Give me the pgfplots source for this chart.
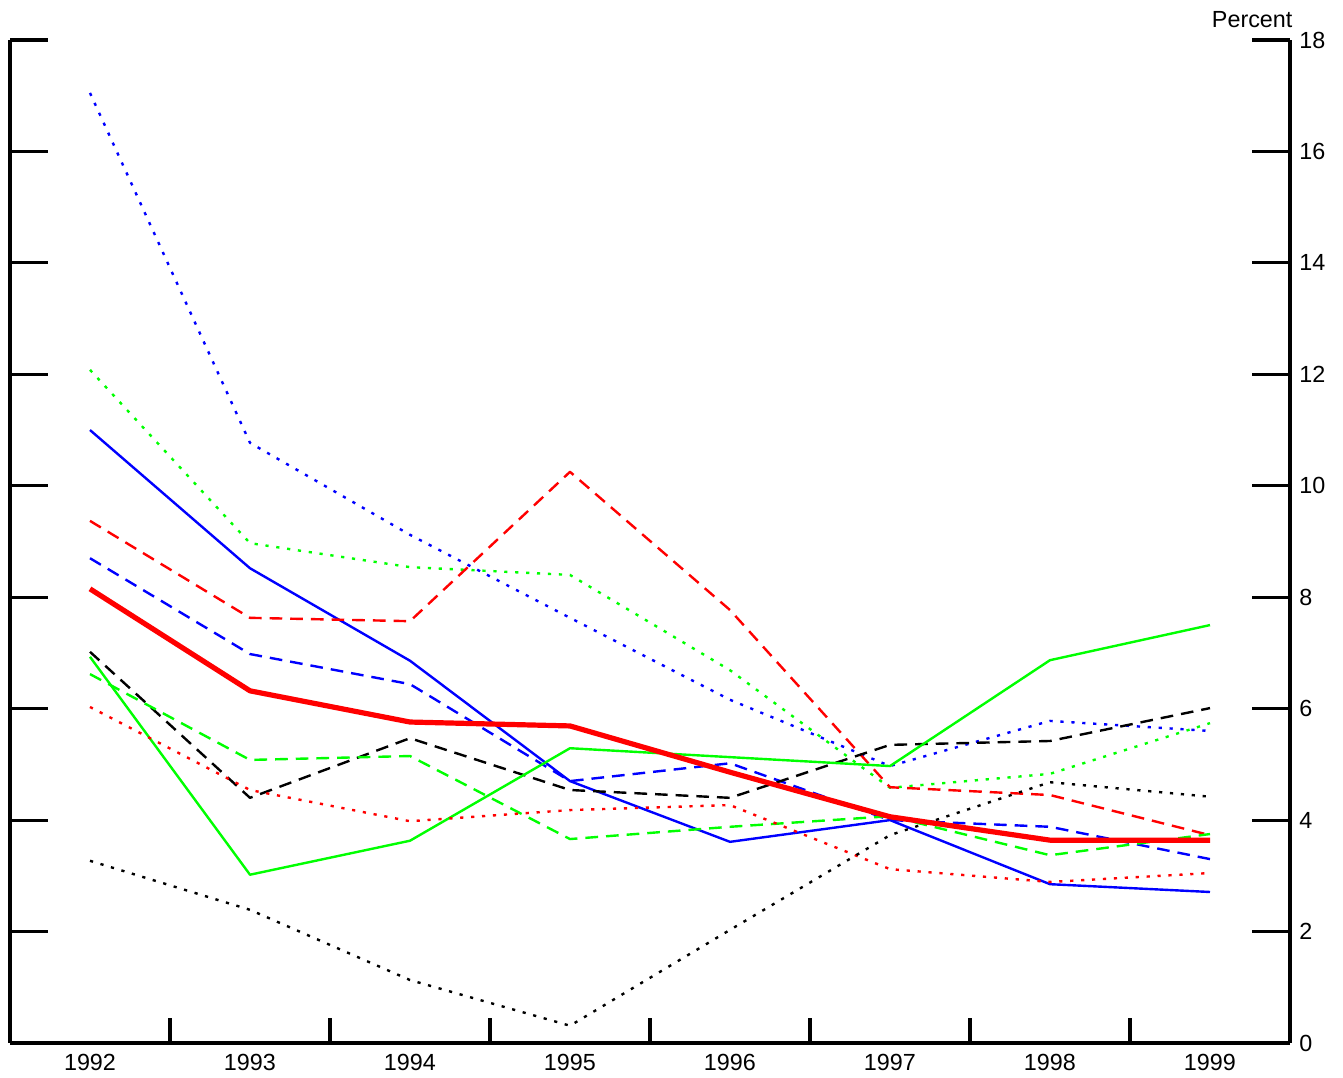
\documentclass[border=0pt]{standalone}
\usepackage{fontspec}
\setmainfont{Liberation Sans}
\usepackage{pgfplots}
\pgfplotsset{compat=1.18}
\definecolor{pblue}{RGB}{0,0,255}
\definecolor{pgreen}{RGB}{0,255,0}
\definecolor{pred}{RGB}{255,0,0}
\tikzset{
  dsh/.style={dash pattern=on 9.5pt off 6pt},
  dts/.style={dash pattern=on 2.4pt off 5.8pt},
}
\begin{document}
\begin{tikzpicture}
\path[use as bounding box] (-7.5pt,-26.25pt) rectangle (999.75pt,782.25pt);
\begin{axis}[
  name=main,
  scale only axis, width=960pt, height=752.25pt,
  xmin=1991.5, xmax=1999.5, ymin=0, ymax=18,
  axis x line*=bottom, axis y line*=box,
  axis line style={line width=2.3pt, black},
  ytick={0,2,...,18}, yticklabel pos=right,
  xtick={1992,...,1999},
  minor xtick={1992.5,1993.5,...,1998.5},
  major x tick style={draw=none},
  major tick length=28.5pt, minor tick length=18.75pt,
  tick style={line width=2.3pt, black},
  tick align=inside,
  xticklabel style={/pgf/number format/1000 sep={}, yshift=-4.5pt},
  yticklabel style={xshift=3.5pt},
  tick label style={font=\fontsize{17.5}{20}\selectfont},
  /pgf/number format/assume math mode=true,
  every axis plot/.append style={line width=1.8pt, line join=round},
]
% blue dotted
\addplot[pblue, dts] coordinates {(1992,17.05) (1993,10.77) (1994,9.12) (1995,7.63) (1996,6.16) (1997,4.97) (1998,5.78) (1999,5.6)};
% green dotted
\addplot[pgreen, dts] coordinates {(1992,12.08) (1993,8.97) (1994,8.54) (1995,8.40) (1996,6.69) (1997,4.58) (1998,4.83) (1999,5.74)};
% blue solid
\addplot[pblue] coordinates {(1992,11.0) (1993,8.52) (1994,6.86) (1995,4.70) (1996,3.61) (1997,4.0) (1998,2.85) (1999,2.71)};
% red dashed
\addplot[pred, dsh] coordinates {(1992,9.37) (1993,7.63) (1994,7.57) (1995,10.25) (1996,7.77) (1997,4.59) (1998,4.45) (1999,3.73)};
% blue dashed
\addplot[pblue, dsh] coordinates {(1992,8.70) (1993,6.98) (1994,6.44) (1995,4.70) (1996,5.02) (1997,4.0) (1998,3.88) (1999,3.30)};
% black dashed
\addplot[black, dsh] coordinates {(1992,7.02) (1993,4.40) (1994,5.47) (1995,4.54) (1996,4.40) (1997,5.35) (1998,5.42) (1999,6.01)};
% green dashed
\addplot[pgreen, dsh] coordinates {(1992,6.62) (1993,5.08) (1994,5.15) (1995,3.66) (1996,3.88) (1997,4.07) (1998,3.37) (1999,3.75)};
% green solid
\addplot[pgreen] coordinates {(1992,6.93) (1993,3.02) (1994,3.63) (1995,5.29) (1996,5.13) (1997,4.97) (1998,6.87) (1999,7.50)};
% red dotted
\addplot[pred, dts] coordinates {(1992,6.03) (1993,4.54) (1994,3.98) (1995,4.18) (1996,4.27) (1997,3.12) (1998,2.89) (1999,3.05)};
% black dotted
\addplot[black, dts] coordinates {(1992,3.27) (1993,2.39) (1994,1.13) (1995,0.31) (1996,2.03) (1997,3.73) (1998,4.68) (1999,4.42)};
% red thick solid
\addplot[pred, line width=3.9pt] coordinates {(1992,8.15) (1993,6.32) (1994,5.76) (1995,5.69) (1996,4.86) (1997,4.06) (1998,3.64) (1999,3.64)};
\end{axis}
\node[anchor=base east, font=\fontsize{17.5}{20}\selectfont, inner sep=0pt] at ([xshift=2pt, yshift=9pt]main.north east) {Percent};
\end{tikzpicture}
\end{document}
